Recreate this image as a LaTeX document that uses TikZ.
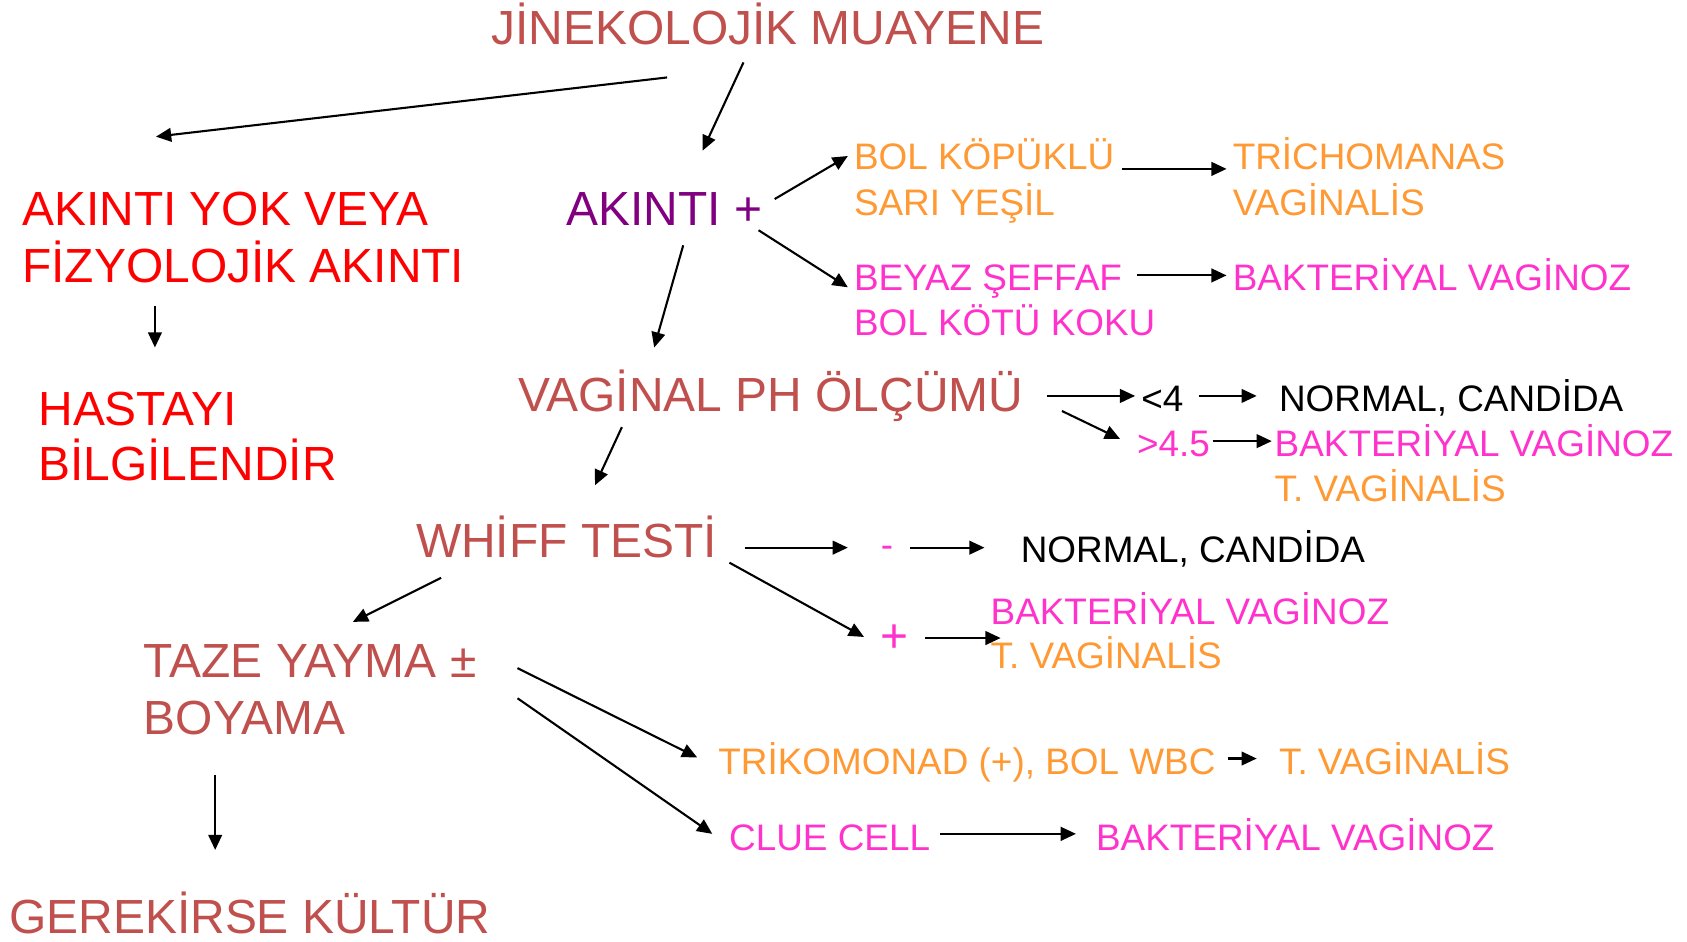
\documentclass[tikz,border=0pt]{standalone}
\usepackage{fontspec}
\setmainfont{Liberation Sans}
\usepackage{tikz}
\usetikzlibrary{arrows.meta}
\tikzset{>={Triangle[width=3.6pt,length=4pt]}}
\definecolor{tugla}{HTML}{C0504D}
\definecolor{mor}{HTML}{800080}
\definecolor{turuncu}{HTML}{FF9933}
\definecolor{pembe}{HTML}{FF33CC}

\begin{document}
\begin{tikzpicture}[x=0.01cm,y=0.01cm,
  txt/.style={inner sep=0pt,anchor=base west},
  big/.style={txt,font=\fontsize{12.6}{15}\selectfont},
  mid/.style={txt,font=\fontsize{9.7}{12}\selectfont},
  arr/.style={->,line width=0.55pt}]
  \useasboundingbox (0,0) rectangle (1560,-871);

  \begin{scope}[shift={(-2,0)},scale=0.995]
  %% first level
  \node[big,tugla] (jin) at (458,-41) {JİNEKOLOJİK MUAYENE};
  \node[big,red] (yok1) at (22,-210) {AKINTI YOK VEYA};
  \node[big,red] (yok2) at (22,-263) {FİZYOLOJİK AKINTI};
  \node[big,red] (has1) at (37,-395) {HASTAYI};
  \node[big,red] (has2) at (37,-447) {BİLGİLENDİR};
  \node[big,mor] (akp) at (528,-210) {AKINTI +};

  %% discharge look
  \node[mid,turuncu] (kop1) at (795,-158) {BOL KÖPÜKLÜ};
  \node[mid,turuncu] (kop2) at (795,-200) {SARI YEŞİL};
  \node[mid,turuncu] (tri1) at (1147,-158) {TRİCHOMANAS};
  \node[mid,turuncu] (tri2) at (1147,-200) {VAGİNALİS};
  \node[mid,pembe] (bey1) at (795,-270) {BEYAZ ŞEFFAF};
  \node[mid,pembe] (bey2) at (795,-312) {BOL KÖTÜ KOKU};
  \node[mid,pembe] (bv1) at (1147,-270) {BAKTERİYAL VAGİNOZ};

  %% pH
  \node[big,tugla] (ph) at (483,-382) {VAGİNAL PH ÖLÇÜMÜ};
  \node[mid] (lt) at (1062,-382) {<4};
  \node[mid] (nc1) at (1190,-382) {NORMAL, CANDİDA};
  \node[mid,pembe] (gt) at (1058,-424) {>4.5};
  \node[mid,pembe] (bv2) at (1186,-424) {BAKTERİYAL VAGİNOZ};
  \node[mid,turuncu] (tv1) at (1186,-466) {T. VAGİNALİS};

  %% whiff
  \node[big,tugla] (whf) at (388,-518) {WHİFF TESTİ};
  \node[mid,pembe] (neg) at (820,-518) {-};
  \node[mid] (nc2) at (950,-523) {NORMAL, CANDİDA};
  \node[big,pembe] (pos) at (820,-606) {+};
  \node[mid,pembe] (bv3) at (922,-580) {BAKTERİYAL VAGİNOZ};
  \node[mid,turuncu] (tv2) at (922,-621) {T. VAGİNALİS};

  %% smear
  \node[big,tugla] (taz1) at (135,-630) {TAZE YAYMA ±};
  \node[big,tugla] (taz2) at (135,-683) {BOYAMA};
  \node[big,tugla] (ger) at (10,-868) {GEREKİRSE KÜLTÜR};
  \node[mid,turuncu] (trk) at (669,-720) {TRİKOMONAD (+), BOL WBC};
  \node[mid,turuncu] (tv3) at (1190,-720) {T. VAGİNALİS};
  \node[mid,pembe] (clu) at (679,-790) {CLUE CELL};
  \node[mid,pembe] (bv4) at (1020,-790) {BAKTERİYAL VAGİNOZ};

  %% arrow ends
  \coordinate (jinA) at (622,-72);  \coordinate (yokA) at (147,-127);
  \coordinate (jinB) at (693,-58);  \coordinate (akpA) at (655,-140);
  \coordinate (yokB) at (146,-284); \coordinate (hasA) at (146,-323);
  \coordinate (akpB) at (722,-185); \coordinate (kopA) at (790,-145);
  \coordinate (akpC) at (707,-214); \coordinate (beyA) at (790,-267);
  \coordinate (kopB) at (1045,-157); \coordinate (triA) at (1142,-157);
  \coordinate (beyB) at (1059,-256); \coordinate (bvA) at (1142,-256);
  \coordinate (akpD) at (637,-228); \coordinate (phA) at (610,-323);
  \coordinate (phB) at (975,-368);  \coordinate (ltA) at (1057,-368);
  \coordinate (ltB) at (1116,-368); \coordinate (ncA) at (1170,-368);
  \coordinate (phC) at (989,-382);  \coordinate (gtA) at (1043,-408);
  \coordinate (gtB) at (1129,-410); \coordinate (bvB) at (1184,-410);
  \coordinate (phD) at (580,-397);  \coordinate (whfA) at (555,-451);
  \coordinate (whfB) at (694,-509); \coordinate (negA) at (790,-509);
  \coordinate (negB) at (848,-509); \coordinate (ncB) at (917,-509);
  \coordinate (whfC) at (680,-523); \coordinate (posA) at (805,-592);
  \coordinate (posB) at (862,-593); \coordinate (bvC) at (932,-593);
  \coordinate (whfD) at (412,-537); \coordinate (tazA) at (330,-578);
  \coordinate (tazB) at (202,-720); \coordinate (gerA) at (202,-790);
  \coordinate (tazC) at (483,-621); \coordinate (trkA) at (650,-704);
  \coordinate (tazD) at (483,-649); \coordinate (cluA) at (664,-775);
  \coordinate (trkB) at (1143,-705); \coordinate (tvA) at (1170,-705);
  \coordinate (cluB) at (876,-775); \coordinate (bvD) at (1002,-775);

  \draw[arr] (jinA) -- (yokA); %% muayene -> yok
  \draw[arr] (jinB) -- (akpA); %% muayene -> akinti
  \draw[arr] (yokB) -- (hasA);
  \draw[arr] (akpB) -- (kopA);
  \draw[arr] (akpC) -- (beyA);
  \draw[arr] (kopB) -- (triA);
  \draw[arr] (beyB) -- (bvA);
  \draw[arr] (akpD) -- (phA); %% akinti -> ph
  \draw[arr] (phB) -- (ltA);
  \draw[arr] (ltB) -- (ncA);
  \draw[arr] (phC) -- (gtA);
  \draw[arr] (gtB) -- (bvB);
  \draw[arr] (phD) -- (whfA); %% ph -> whiff
  \draw[arr] (whfB) -- (negA);
  \draw[arr] (negB) -- (ncB);
  \draw[arr] (whfC) -- (posA);
  \draw[arr] (posB) -- (bvC);
  \draw[arr] (whfD) -- (tazA); %% whiff -> yayma
  \draw[arr] (tazB) -- (gerA);
  \draw[arr] (tazC) -- (trkA);
  \draw[arr] (tazD) -- (cluA);
  \draw[arr] (trkB) -- (tvA);
  \draw[arr] (cluB) -- (bvD);
  \end{scope}

\end{tikzpicture}
\end{document}
